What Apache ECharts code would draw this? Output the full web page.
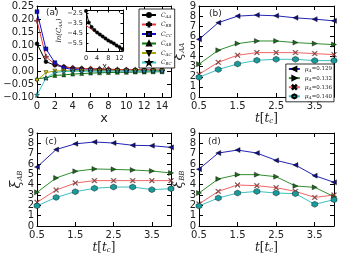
<!DOCTYPE html>
<html>
<head>
<meta charset="utf-8">
<title>correlations</title>
<script src="https://cdn.jsdelivr.net/npm/echarts@6/dist/echarts.min.js"></script>
<style>
    html, body { margin: 0; padding: 0; background: #fff; }
    #chart { width: 338px; height: 254px; }
</style>
</head>
<body>
<div id="chart"></div>
<script>
    // panel (a): correlation functions C(x)
    var xA = [0, 1, 2, 3, 4, 5, 6, 7, 8, 9, 10, 11, 12, 13, 14];
    var cAA = [0.105, 0.036, 0.022, 0.016, 0.012, 0.010, 0.008, 0.007, 0.006, 0.005, 0.005, 0.004, 0.004, 0.003, 0.003];
    var cBB = [0.193, 0.055, 0.026, 0.016, 0.012, 0.010, 0.009, 0.008, 0.007, 0.006, 0.005, 0.005, 0.004, 0.004, 0.003];
    var cCC = [0.228, 0.085, 0.032, 0.012, 0.006, 0.004, 0.003, 0.002, 0.002, 0.001, 0.001, 0.001, 0.001, 0.001, 0.001];
    var cAB = [-0.030, -0.026, -0.017, -0.015, -0.012, -0.010, -0.008, -0.007, -0.006, -0.005, -0.005, -0.004, -0.004, -0.003, -0.003];
    var cAC = [-0.036, -0.006, 0.000, 0.001, 0.001, 0.001, 0.001, 0.001, 0.001, 0.001, 0.001, 0.001, 0.001, 0.001, 0.001];
    var cBC = [-0.092, -0.027, -0.006, -0.002, -0.001, -0.001, -0.001, -0.001, -0.001, 0.000, 0.000, 0.000, 0.000, 0.000, 0.000];

    // inset: ln C_AA and its linear fit
    var xIn = [0, 1, 2, 3, 4, 5, 6, 7, 8, 9, 10, 11, 12, 13];
    var lnAA = [-2.25, -3.4, -3.85, -4.15, -4.4, -4.6, -4.8, -5.0, -5.2, -5.35, -5.5, -5.7, -5.85, -6.05];
    var fitX = [0, 13.3];
    var fitY = [-3.7, -6.15];

    // panels (b)-(d): correlation lengths vs t
    var tVals = [0.5, 1.0, 1.5, 2.0, 2.5, 3.0, 3.5, 4.0];
    var muNames = ['0.129', '0.132', '0.136', '0.140'];
    var xiAA = [
        [5.7, 7.35, 8.0, 8.1, 8.03, 7.83, 7.7, 7.53],
        [3.25, 4.62, 5.28, 5.54, 5.54, 5.38, 5.28, 5.18],
        [2.25, 3.43, 4.13, 4.39, 4.39, 4.39, 4.29, 4.19],
        [1.95, 2.72, 3.27, 3.63, 3.73, 3.73, 3.6, 3.6]
    ];
    var xiAB = [
        [5.7, 7.4, 7.95, 8.13, 8.03, 7.81, 7.77, 7.61],
        [3.26, 4.65, 5.29, 5.52, 5.48, 5.42, 5.32, 5.13],
        [2.29, 3.48, 4.16, 4.39, 4.39, 4.39, 4.39, 4.39],
        [1.95, 2.77, 3.32, 3.65, 3.77, 3.77, 3.52, 3.61]
    ];
    var xiBB = [
        [5.5, 7.06, 7.35, 7.06, 6.35, 5.9, 4.87, 4.23],
        [3.19, 4.55, 4.97, 4.97, 4.77, 3.87, 3.74, 2.84],
        [2.13, 3.35, 3.97, 3.9, 3.71, 3.35, 2.77, 3.0],
        [1.94, 2.71, 3.19, 3.35, 3.19, 3.13, 2.1, 2.55]
    ];

    var SANS = 'DejaVu Sans', SERIF = 'DejaVu Serif';
    var muColors = ['#2424b4', '#2f8f2f', '#f06464', '#3cc0c0'];
    var muSymbols = [
        'path://M0,5L10,0L10,10Z',
        'path://M10,5L0,0L0,10Z',
        'path://M0,1L1,0L5,4L9,0L10,1L6,5L10,9L9,10L5,6L1,10L0,9L4,5Z',
        'path://M5,0L9.33,2.5L9.33,7.5L5,10L0.67,7.5L0.67,2.5Z'
    ];
    var muSymColors = ['#101080', '#1f6a1f', '#f06464', '#1a9a9a'];

    var grids = [
        { left: 37, top: 6, width: 134, height: 91 },   // a
        { left: 199, top: 6, width: 135, height: 91 },  // b
        { left: 37, top: 133, width: 134, height: 93 }, // c
        { left: 199, top: 133, width: 135, height: 93 },// d
        { left: 86, top: 10, width: 37, height: 41, show: true, backgroundColor: '#fff', borderWidth: 0 } // inset
    ];
    grids.forEach(function (g) { g.outerBoundsMode = 'none'; g.containLabel = false; });

    var xAxes = [], yAxes = [];
    var subRich = {
        i: { fontFamily: SERIF, fontStyle: 'italic', fontSize: 12, color: '#222' },
        n: { fontFamily: SERIF, fontSize: 12, color: '#222' },
        s: { fontFamily: SERIF, fontStyle: 'italic', fontSize: 7, color: '#222', verticalAlign: 'bottom', padding: [6, 0, 0, 0] }
    };

    function minus(s) { return String(s).replace('-', '\u2212'); }

    // bottom + mirrored top axis, left + mirrored right axis
    function addAxes(g, xo, yo) {
        var xi = xAxes.length, yi = yAxes.length;
        var fs = xo.fs || 10, tl = xo.tick || 4;
        var xbase = {
            gridIndex: g, type: 'value', min: xo.min, max: xo.max, interval: xo.interval,
            axisLine: { onZero: false, lineStyle: { color: '#000', width: 1 } },
            axisTick: { inside: true, length: tl, lineStyle: { color: '#000' } },
            splitLine: { show: false }
        };
        var ybase = {
            gridIndex: g, type: 'value', min: yo.min, max: yo.max, interval: yo.interval,
            axisLine: { onZero: false, lineStyle: { color: '#000', width: 1 } },
            axisTick: { inside: true, length: tl, lineStyle: { color: '#000' } },
            splitLine: { show: false }
        };
        if (yo.custom) {
            ybase.axisTick.customValues = yo.custom;
        }
        xAxes.push(Object.assign({}, xbase, {
            position: 'bottom',
            axisLabel: { margin: 4, fontFamily: SANS, fontSize: fs, color: '#222', showMaxLabel: false, formatter: xo.fmt },
            name: xo.name, nameLocation: 'middle', nameGap: xo.gap, nameTextStyle: xo.nts
        }));
        xAxes.push(Object.assign({}, xbase, { position: 'top', axisLabel: { show: false } }));
        var ylab = { margin: 3, fontFamily: SANS, fontSize: fs, color: '#222', formatter: yo.fmt };
        if (yo.custom) ylab.customValues = yo.custom;
        yAxes.push(Object.assign({}, ybase, {
            position: 'left', axisLabel: ylab,
            name: yo.name, nameLocation: 'middle', nameGap: yo.gap, nameRotate: 90, nameTextStyle: yo.nts
        }));
        yAxes.push(Object.assign({}, ybase, { position: 'right', axisLabel: { show: false } }));
        return [xi, yi];
    }

    function mkLine(name, xs, ys, ax, color, sym, size, symColor, z) {
        return {
            type: 'line', name: name, xAxisIndex: ax[0], yAxisIndex: ax[1],
            data: xs.map(function (x, i) { return [x, ys[i]]; }),
            lineStyle: { color: color, width: 1 },
            itemStyle: { color: symColor || color, borderColor: '#000', borderWidth: 0.4 },
            symbol: sym, symbolSize: size, showSymbol: sym !== 'none',
            animation: false, z: z || 2
        };
    }

    var series = [];

    // (a)
    var axA = addAxes(0,
        { min: 0, max: 15, interval: 2, name: 'x', gap: 15, nts: { fontFamily: SANS, fontSize: 13, color: '#222' } },
        { min: -0.10, max: 0.25, interval: 0.05, fmt: function (v) { return minus(v.toFixed(2)); },
          name: 'C(x)', gap: 28, nts: { fontFamily: SANS, fontSize: 12, color: '#222' } });
    series.push(mkLine('C_AA', xA, cAA, axA, '#000', 'circle', 4, '#000'));
    series.push(mkLine('C_BB', xA, cBB, axA, '#e83a3a', 'path://M4,0L6,0L6,4L10,4L10,6L6,6L6,10L4,10L4,6L0,6L0,4L4,4Z', 5, '#e83a3a'));
    series.push(mkLine('C_CC', xA, cCC, axA, '#1010cc', 'rect', 4, '#1010cc'));
    series.push(mkLine('C_AB', xA, cAB, axA, '#0a7a0a', 'triangle', 4, '#0a7a0a'));
    series.push(mkLine('C_AC', xA, cAC, axA, '#a8a800', 'path://M0,0L10,0L5,10Z', 4, '#c8c800'));
    series.push(mkLine('C_BC', xA, cBC, axA, '#38c8c8',
        'path://M5,0L6.2,3.8L10,3.8L6.9,6.1L8.1,10L5,7.6L1.9,10L3.1,6.1L0,3.8L3.8,3.8Z', 5, '#20a0a0'));

    // (b), (c), (d)
    var tAxis = function () {
        return { min: 0.5, max: 4.0, interval: 1, fmt: function (v) { return v.toFixed(1); },
                 name: '{i|t}{n|[}{i|t}{s|c}{n|]}', gap: 15, nts: { rich: subRich } };
    };
    var xiAxis = function (sub, gap) {
        return { min: 0, max: 9, interval: 1, name: '{x|\u03be}{s|' + sub + '}', gap: gap,
                 nts: { rich: { x: { fontFamily: SERIF, fontStyle: 'italic', fontSize: 14, color: '#222' },
                                s: { fontFamily: SERIF, fontStyle: 'italic', fontSize: 7, color: '#222', verticalAlign: 'bottom', padding: [7, 0, 0, 0] } } } };
    };
    var axB = addAxes(1, tAxis(), xiAxis('AA', 10));
    var axC = addAxes(2, tAxis(), xiAxis('AB', 13));
    var axD = addAxes(3, tAxis(), xiAxis('BB', 10));
    [[axB, xiAA], [axC, xiAB], [axD, xiBB]].forEach(function (p) {
        for (var k = 0; k < 4; k++) {
            series.push(mkLine('mu' + k, tVals, p[1][k], p[0], muColors[k], muSymbols[k], k === 3 ? 6 : 5, muSymColors[k]));
        }
    });

    // inset
    var axI = addAxes(4,
        { min: 0, max: 13.3, interval: 4, fs: 6.5, tick: 2.5, name: 'x', gap: 11, nts: { fontFamily: SANS, fontSize: 8, color: '#222' } },
        { min: -6.25, max: -2.15, custom: [-5.5, -4.5, -3.5, -2.5], fmt: function (v) { return minus(v.toFixed(1)); },
          name: '{n|ln(}{i|C}{s|AA}{n|)}', gap: 19,
          nts: { rich: { n: { fontFamily: SERIF, fontStyle: 'italic', fontSize: 7, color: '#222' },
                         i: { fontFamily: SERIF, fontStyle: 'italic', fontSize: 7, color: '#222' },
                         s: { fontFamily: SERIF, fontStyle: 'italic', fontSize: 4.5, color: '#222', verticalAlign: 'bottom', padding: [3, 0, 0, 0] } } } });
    xAxes[axI[0]].axisLabel.fontSize = 6.5;
    yAxes[axI[1]].axisLabel.fontSize = 6.5;
    series.push(mkLine('fit', fitX, fitY, axI, '#e83a3a', 'none', 0, '#e83a3a', 3));
    series.push(mkLine('lnAA', xIn, lnAA, axI, '#000', 'circle', 3.5, '#000', 4));

    var legendTextRich = {
        i: { fontFamily: SERIF, fontStyle: 'italic', fontSize: 6, color: '#222' },
        n: { fontFamily: SERIF, fontSize: 5.5, color: '#222' },
        s: { fontFamily: SERIF, fontStyle: 'italic', fontSize: 4, color: '#222', verticalAlign: 'bottom', padding: [3, 0, 0, 0] }
    };

    var chart = echarts.init(document.getElementById('chart'), null, { renderer: 'canvas' });
    chart.setOption({
        animation: false,
        backgroundColor: '#fff',
        grid: grids,
        xAxis: xAxes,
        yAxis: yAxes,
        legend: [{
            data: ['C_AA', 'C_BB', 'C_CC', 'C_AB', 'C_AC', 'C_BC'],
            orient: 'vertical', left: 139, top: 9, itemWidth: 14, itemHeight: 5, itemGap: 3,
            padding: [3, 3, 2, 2], backgroundColor: '#fff', borderColor: '#000', borderWidth: 0.8,
            formatter: function (n) { return '{i|C}{s|' + n.split('_')[1] + '}'; },
            textStyle: { rich: legendTextRich }, selectedMode: false
        }, {
            data: ['mu0', 'mu1', 'mu2', 'mu3'],
            orient: 'vertical', right: 4, top: 64, itemWidth: 11, itemHeight: 5, itemGap: 2.6,
            padding: [2, 2, 2, 2], backgroundColor: '#fff', borderColor: '#000', borderWidth: 0.8,
            formatter: function (n) { return '{i|\u03bc}{s|A}{n|=' + muNames[+n.slice(2)] + '}'; },
            textStyle: { rich: legendTextRich }, selectedMode: false
        }],
        graphic: [
            { type: 'text', left: 46, top: 8, style: { text: '(a)', font: '9px DejaVu Sans', fill: '#222' } },
            { type: 'text', left: 209, top: 9, style: { text: '(b)', font: '9px DejaVu Sans', fill: '#222' } },
            { type: 'text', left: 45, top: 137, style: { text: '(c)', font: '9px DejaVu Sans', fill: '#222' } },
            { type: 'text', left: 208, top: 137, style: { text: '(d)', font: '9px DejaVu Sans', fill: '#222' } }
        ],
        series: series
    });
</script>
</body>
</html>
